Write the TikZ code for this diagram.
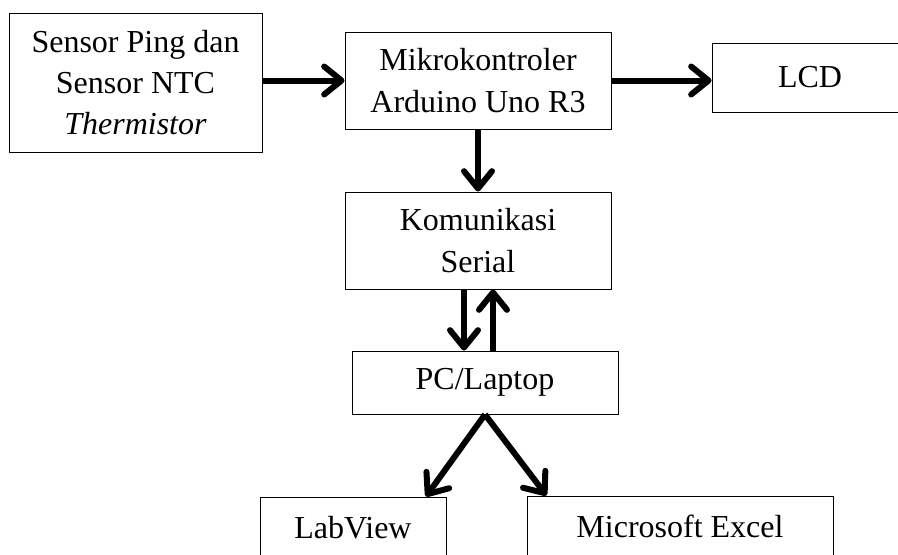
\documentclass[tikz,border=0pt]{standalone}
\usepackage{fontspec}
\setmainfont{Liberation Serif}
\usetikzlibrary{arrows.meta,calc}

\begin{document}
\begin{tikzpicture}[x=0.75pt,y=-0.75pt]

      \useasboundingbox (0,0) rectangle (898,554);
      \clip (0,0) rectangle (898,554);

      \begin{scope}[every node/.style={rectangle,draw,line width=0.75pt,align=center,inner sep=0pt,
          font=\fontsize{24}{31}\selectfont}]
        \node[minimum width=189.75pt,minimum height=104.25pt] (1) at (135.5,82.5) {Sensor Ping dan\\Sensor NTC\\\textit{Thermistor}};
        \node[minimum width=199.5pt,minimum height=72.75pt]   (2) at (478,80.5)   {Mikrokontroler\\Arduino Uno R3};
        \node[minimum width=147pt,minimum height=51.75pt]     (3) at (810,77.5)   {LCD};
        \node[minimum width=199.5pt,minimum height=72.75pt]   (4) at (478,240.5)  {Komunikasi\\Serial};
        \node[minimum width=199.5pt,minimum height=47.25pt]   (5) at (485,382.5)  {PC/Laptop};
        \node[minimum width=139.5pt,minimum height=45.75pt]   (6) at (353,527.5)  {LabView};
        \node[minimum width=229.5pt,minimum height=45pt]      (7) at (680,526)    {Microsoft Excel};
      \end{scope}

      \begin{scope}[every edge/.style={draw,line width=4.5pt,-{Straight Barb[round,length=13pt,width=21pt]}}]
        \path (1.east |- 2.west) edge (2.west);
        \path (2.east) edge (2.east -| 3.west);
        \path (2.south) edge (4.north);
        \path ($(4.south)+(-14,0)$) edge ($(5.north)+(-21,0)$);
        \path ($(5.north)+(8,0)$) edge ($(4.south)+(15,0)$);
        \path (5.south) edge ($(6.north)!0.78!(6.north east)$);
        \path (5.south) edge ($(7.north west)!0.13!(7.north)$);
      \end{scope}

    \end{tikzpicture}
\end{document}
